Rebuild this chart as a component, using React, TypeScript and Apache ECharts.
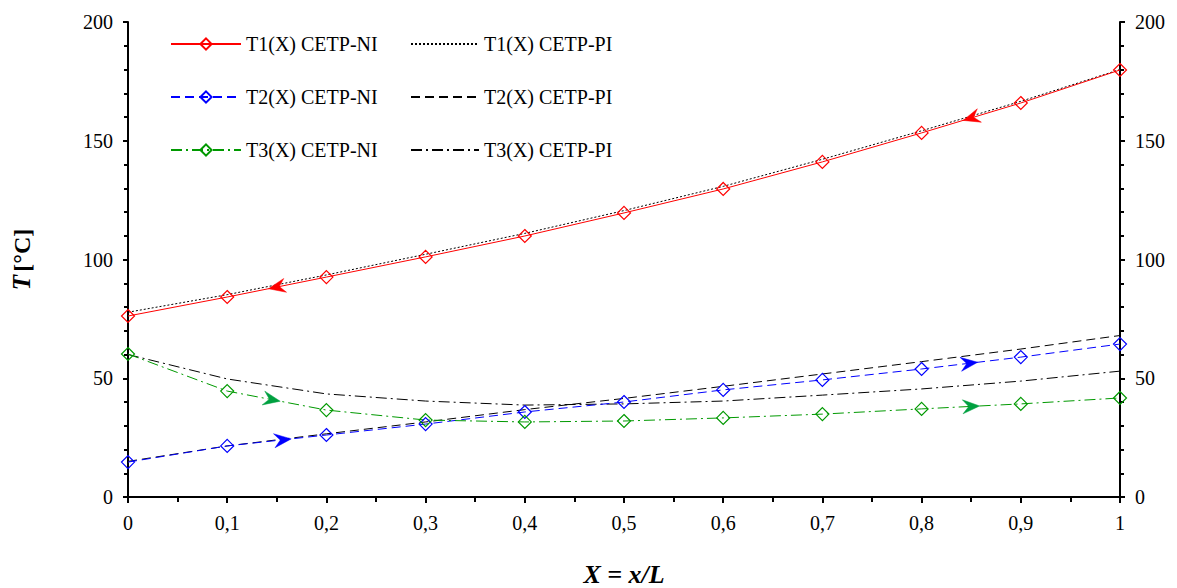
import React, { useEffect, useRef } from "react";
import * as echarts from "echarts";

const xValues = [0, 0.1, 0.2, 0.3, 0.4, 0.5, 0.6, 0.7, 0.8, 0.9, 1];
const t1NI = [76.2, 84.2, 92.6, 101.1, 109.9, 119.6, 129.7, 141.1, 153.3, 165.9, 179.8];
const t1PI = [77.8, 85.2, 93.5, 102.2, 111.0, 120.6, 130.8, 142.2, 154.2, 166.6, 180.0];
const t2NI = [14.7, 21.5, 26.1, 30.7, 35.8, 40.0, 45.1, 49.3, 53.9, 58.9, 64.4];
const t2PI = [15.0, 21.5, 26.6, 31.6, 36.8, 41.5, 46.6, 51.8, 57.0, 62.3, 68.0];
const t3NI = [60.2, 44.6, 36.6, 32.4, 31.6, 32.0, 33.3, 34.9, 37.1, 39.2, 41.7];
const t3PI = [60.0, 49.7, 43.4, 40.4, 38.7, 39.2, 40.4, 42.9, 45.5, 48.8, 53.0];

const names = [
  "T1(X) CETP-NI",
  "T2(X) CETP-NI",
  "T3(X) CETP-NI",
  "T1(X) CETP-PI",
  "T2(X) CETP-PI",
  "T3(X) CETP-PI",
];

// arrow markers: [X position, series index (0 T1,1 T2,2 T3), direction]
const arrowX = [0.15, 0.85, 0.156, 0.848, 0.145, 0.85];
const arrowSeries = [0, 0, 1, 1, 2, 2];
const arrowDir = [-1, -1, 1, 1, 1, 1];
const arrowColors = ["#ff0000", "#0000ff", "#00a040"];

const FONT = "Liberation Serif";

function interp(arr: number[], x: number) {
  const i = Math.min(Math.floor(x * 10), 9);
  const f = x * 10 - i;
  return arr[i] + (arr[i + 1] - arr[i]) * f;
}

export default function App() {
  const ref = useRef<HTMLDivElement>(null);
  useEffect(() => {
    if (!ref.current) return;
    const chart = echarts.init(ref.current, null, { renderer: "svg" });
    const niArrays = [t1NI, t2NI, t3NI];
    const arrowData = arrowX.map((x, i) => [
      x,
      interp(niArrays[arrowSeries[i]], x),
      arrowDir[i],
      arrowSeries[i],
    ]);

    const mk = (name: string, data: number[], color: string, type: any, marker: boolean, width = 1) => ({
      name,
      type: "line",
      data: xValues.map((x, i) => [x, data[i]]),
      symbol: marker ? "diamond" : "none",
      showSymbol: marker,
      symbolSize: [13, 13],
      itemStyle: { color: "rgba(255,255,255,0)", borderColor: color, borderWidth: 1.2 },
      lineStyle: { color, width, type },
      color,
      z: marker ? 3 : 2,
    });

    const yCommon = {
      type: "value",
      min: 0,
      max: 200,
      interval: 50,
      splitLine: { show: false },
      axisLine: { show: true, lineStyle: { color: "#000", width: 2 } },
      axisTick: { show: true, inside: false, length: 5, lineStyle: { color: "#000", width: 2 } },
      minorTick: { show: true, splitNumber: 5, length: 4, lineStyle: { color: "#000", width: 2 } },
      minorSplitLine: { show: false },
      axisLabel: { color: "#000", fontFamily: FONT, fontSize: 20, margin: 15 },
    };

    const legendText = { color: "#000", fontFamily: FONT, fontSize: 20 };

    chart.setOption({
      animation: false,
      backgroundColor: "#fff",
      grid: { left: 128, right: 57, top: 22, bottom: 91, containLabel: false, outerBoundsMode: "none" },
      legend: [
        {
          data: names.slice(0, 3),
          orient: "vertical",
          left: 165,
          top: 29,
          itemWidth: 70,
          itemHeight: 14,
          itemGap: 33,
          textStyle: legendText,
        },
        {
          data: names.slice(3),
          orient: "vertical",
          left: 405,
          top: 29,
          itemWidth: 68,
          itemHeight: 14,
          itemGap: 33,
          itemStyle: { color: "rgba(0,0,0,0)", borderColor: "rgba(0,0,0,0)", borderWidth: 0 },
          textStyle: legendText,
        },
      ],
      xAxis: {
        type: "value",
        min: 0,
        max: 1,
        interval: 0.1,
        splitLine: { show: false },
        axisLine: { show: true, onZero: false, lineStyle: { color: "#000", width: 2 } },
        axisTick: { show: true, length: 6, lineStyle: { color: "#000", width: 2 } },
        minorTick: { show: true, splitNumber: 2, length: 5, lineStyle: { color: "#000", width: 2 } },
        axisLabel: {
          color: "#000",
          fontFamily: FONT,
          fontSize: 20,
          margin: 16,
          formatter: (v: number) => (Math.abs(v) < 1e-9 ? "0" : Math.abs(v - 1) < 1e-9 ? "1" : v.toFixed(1).replace(".", ",")),
        },
        name: "X = x/L",
        nameLocation: "middle",
        nameGap: 64,
        nameTextStyle: { color: "#000", fontFamily: FONT, fontSize: 26, fontWeight: "bold", fontStyle: "italic" },
      },
      yAxis: [
        {
          ...yCommon,
          position: "left",
          name: "{a|T} {b|[°C]}",
          nameLocation: "middle",
          nameGap: 94,
          nameTextStyle: {
            color: "#000",
            rich: {
              a: { fontFamily: FONT, fontSize: 25, fontWeight: "bold", fontStyle: "italic", color: "#000" },
              b: { fontFamily: FONT, fontSize: 24, fontWeight: "bold", color: "#000" },
            },
          },
        },
        { ...yCommon, position: "right" },
      ],
      series: [
        mk(names[3], t1PI, "#000", [2, 2], false),
        mk(names[4], t2PI, "#000", [9, 5], false),
        mk(names[5], t3PI, "#000", [11, 4, 2, 4], false),
        mk(names[0], t1NI, "#ff0000", "solid", true),
        mk(names[1], t2NI, "#0000ff", [9, 5], true),
        mk(names[2], t3NI, "#009900", [11, 4, 2, 4], true),
        {
          type: "custom",
          name: "arrows",
          data: arrowData,
          encode: { x: 0, y: 1 },
          z: 5,
          renderItem: (params: any, api: any) => {
            const x = api.value(0);
            const y = api.value(1);
            const dir = api.value(2);
            const s = api.value(3);
            const arr = niArrays[s];
            const x2 = x + 0.01 * dir;
            const y2 = interp(arr, Math.max(0, Math.min(1, x2)));
            const p = api.coord([x, y]);
            const q = api.coord([x2, y2]);
            const ang = Math.atan2(q[1] - p[1], q[0] - p[0]);
            const L = 17;
            const W = 7;
            const N = 11;
            const c = Math.cos(ang);
            const sn = Math.sin(ang);
            const tr = (dx: number, dy: number) => [p[0] + dx * c - dy * sn, p[1] + dx * sn + dy * c];
            const tip = tr(L / 2, 0);
            const b1 = tr(-L / 2, -W);
            const nt = tr(-L / 2 + (L - N), 0);
            const b2 = tr(-L / 2, W);
            return {
              type: "polygon",
              shape: { points: [tip, b1, nt, b2] },
              style: { fill: arrowColors[s], stroke: arrowColors[s], lineWidth: 0.5 },
            };
          },
        },
      ],
    });
    return () => chart.dispose();
  }, []);
  return <div ref={ref} style={{ width: 1177, height: 588, position: "absolute", left: 0, top: 0 }} />;
}
